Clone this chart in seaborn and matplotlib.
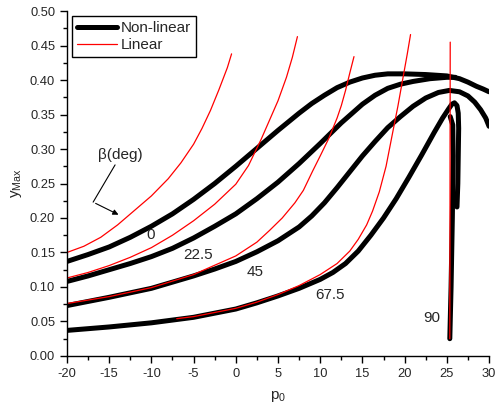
import numpy as np
import pandas as pd
import matplotlib
matplotlib.use("Agg")
import matplotlib.pyplot as plt
import seaborn as sns
from matplotlib.ticker import MultipleLocator

# Non-linear curves (black)
p_nl_0 = [-20, -17.5, -15, -12.5, -10, -7.5, -5, -2.5, 0, 2.5, 5, 7.5, 9, 10.5, 12, 13.5, 15, 16.5, 18, 20, 22.5, 25, 26.5, 27.5, 28.5, 29.3, 30]
y_nl_0 = [0.137, 0.147, 0.158, 0.172, 0.188, 0.206, 0.227, 0.250, 0.275, 0.301, 0.327, 0.352, 0.366, 0.378, 0.389, 0.397, 0.403, 0.407, 0.409, 0.409, 0.408, 0.406, 0.402, 0.397, 0.391, 0.387, 0.383]

p_nl_22 = [-20, -17.5, -15, -12.5, -10, -7.5, -5, -2.5, 0, 2.5, 5, 7.5, 10, 12.5, 15, 16.5, 18, 19.5, 21, 23, 25, 26]
y_nl_22 = [0.108, 0.116, 0.125, 0.134, 0.144, 0.156, 0.171, 0.188, 0.206, 0.228, 0.252, 0.279, 0.308, 0.338, 0.365, 0.378, 0.388, 0.394, 0.398, 0.402, 0.404, 0.404]

p_nl_45 = [-20, -15, -10, -5, -2.5, 0, 2.5, 5, 7.5, 9, 10.5, 12, 13.5, 15, 16.5, 18, 19.5, 21, 22.5, 24, 25.3, 26.5, 27.5, 28.3, 29, 29.6, 30]
y_nl_45 = [0.073, 0.085, 0.098, 0.116, 0.126, 0.137, 0.151, 0.167, 0.187, 0.203, 0.222, 0.244, 0.267, 0.290, 0.311, 0.331, 0.347, 0.362, 0.374, 0.382, 0.385, 0.383, 0.377, 0.368, 0.357, 0.345, 0.333]

p_nl_67 = [-20, -15, -10, -5, 0, 2.5, 5, 7.5, 10, 11.5, 13, 14.5, 16, 17.5, 19, 20.5, 22, 23.5, 24.5, 25.2, 25.6, 25.9, 26.2, 26.35, 26.4, 26.35, 26.3, 26.2]
y_nl_67 = [0.037, 0.042, 0.048, 0.056, 0.068, 0.077, 0.087, 0.098, 0.111, 0.121, 0.134, 0.152, 0.175, 0.200, 0.228, 0.259, 0.291, 0.324, 0.345, 0.358, 0.365, 0.367, 0.363, 0.352, 0.330, 0.290, 0.250, 0.216]

p_nl_90 = [25.35, 25.5, 25.65, 25.75, 25.7, 25.4]
y_nl_90 = [0.025, 0.100, 0.200, 0.290, 0.335, 0.347]

# Linear curves (red)
p_l_0 = [-20, -18, -16, -14, -12, -10, -8, -6.5, -5, -4, -3, -2, -1, -0.5]
y_l_0 = [0.150, 0.159, 0.172, 0.190, 0.211, 0.232, 0.257, 0.280, 0.307, 0.330, 0.356, 0.386, 0.418, 0.438]

p_l_22 = [-20, -17.5, -15, -12.5, -10, -7.5, -5, -2.5, 0, 1.5, 3, 4, 5, 6, 6.7, 7.3]
y_l_22 = [0.113, 0.121, 0.131, 0.143, 0.157, 0.175, 0.196, 0.220, 0.249, 0.276, 0.314, 0.342, 0.370, 0.404, 0.433, 0.463]

p_l_45 = [-20, -15, -10, -5, 0, 2.5, 4, 5.5, 7, 8, 9.1, 10, 11, 12, 12.5, 13, 13.5, 14]
y_l_45 = [0.076, 0.086, 0.099, 0.118, 0.145, 0.165, 0.182, 0.200, 0.222, 0.240, 0.268, 0.290, 0.315, 0.345, 0.363, 0.385, 0.410, 0.434]

p_l_67 = [-7, -5, -2.5, 0, 2.5, 5, 7.5, 10, 12, 13.5, 14.5, 15.5, 16.2, 17, 17.8, 18.6, 19.2, 19.8, 20.3, 20.7]
y_l_67 = [0.054, 0.057, 0.063, 0.069, 0.078, 0.089, 0.102, 0.118, 0.134, 0.152, 0.169, 0.190, 0.210, 0.238, 0.275, 0.325, 0.362, 0.403, 0.437, 0.466]

p_l_90 = [25.35, 25.4]
y_l_90 = [0.025, 0.455]

beta_labels = ["0", "22.5", "45", "67.5", "90"]
beta_label_pos = [(-10.1, 0.175), (-4.5, 0.146), (2.3, 0.121), (11.1, 0.089), (23.2, 0.055)]

sns.set_style("ticks")
plt.rcParams['font.family'] = ['Liberation Sans', 'DejaVu Sans']
plt.rcParams['mathtext.fontset'] = 'custom'
plt.rcParams['mathtext.rm'] = 'Liberation Sans'
plt.rcParams['mathtext.it'] = 'Liberation Sans:italic'
plt.rcParams['axes.unicode_minus'] = False

fig = plt.figure(figsize=(4.96, 4.11), dpi=100)
ax = fig.add_axes([0.135, 0.134, 0.851, 0.839])

nl_curves = [(p_nl_0, y_nl_0), (p_nl_22, y_nl_22), (p_nl_45, y_nl_45), (p_nl_67, y_nl_67), (p_nl_90, y_nl_90)]
l_curves = [(p_l_0, y_l_0), (p_l_22, y_l_22), (p_l_45, y_l_45), (p_l_67, y_l_67), (p_l_90, y_l_90)]

# black first, red drawn on top like in the original
for i, (px, py) in enumerate(nl_curves):
    df = pd.DataFrame({"p0": px, "ymax": py})
    sns.lineplot(data=df, x="p0", y="ymax", sort=False, estimator=None, color="black",
                 lw=3.6, solid_capstyle="round", solid_joinstyle="round",
                 label="Non-linear" if i == 0 else None, ax=ax, legend=False)

for i, (px, py) in enumerate(l_curves):
    df = pd.DataFrame({"p0": px, "ymax": py})
    sns.lineplot(data=df, x="p0", y="ymax", sort=False, estimator=None, color="red",
                 lw=0.9, label="Linear" if i == 0 else None, ax=ax, legend=False)

# beta labels
for txt, (bx, by) in zip(beta_labels, beta_label_pos):
    ax.text(bx, by, txt, fontsize=11, ha="center", va="center")

ax.text(-13.7, 0.292, "β(deg)", fontsize=11, ha="center", va="center")
ax.plot([-14.3, -16.9], [0.277, 0.223], color="black", lw=0.8)
ax.annotate("", xy=(-13.6, 0.203), xytext=(-16.9, 0.223),
            arrowprops=dict(arrowstyle="-|>", color="black", lw=0.8, mutation_scale=8))

ax.set_xlim(-20, 30)
ax.set_ylim(0, 0.5)
ax.xaxis.set_major_locator(MultipleLocator(5))
ax.xaxis.set_minor_locator(MultipleLocator(2.5))
ax.yaxis.set_major_locator(MultipleLocator(0.05))
ax.yaxis.set_minor_locator(MultipleLocator(0.025))
ax.set_yticklabels([f"{v:.2f}" for v in ax.get_yticks()])
ax.tick_params(which="major", direction="out", length=5, width=1, labelsize=9.3, color="black")
ax.tick_params(which="minor", direction="out", length=3, width=1, color="black")
sns.despine(ax=ax)
for s in ["left", "bottom"]:
    ax.spines[s].set_color("black")
    ax.spines[s].set_linewidth(1)

ax.set_xlabel(r"p$_\mathrm{0}$", fontsize=11, labelpad=7)
ax.set_ylabel(r"y$_\mathrm{Max}$", fontsize=11)

ax.legend(loc="upper left", fontsize=11, frameon=True, fancybox=False, edgecolor="black",
          framealpha=1, handlelength=2.6, borderpad=0.3, labelspacing=0.2,
          handletextpad=0.3, borderaxespad=0.35)

fig.savefig("out.png", dpi=100)
